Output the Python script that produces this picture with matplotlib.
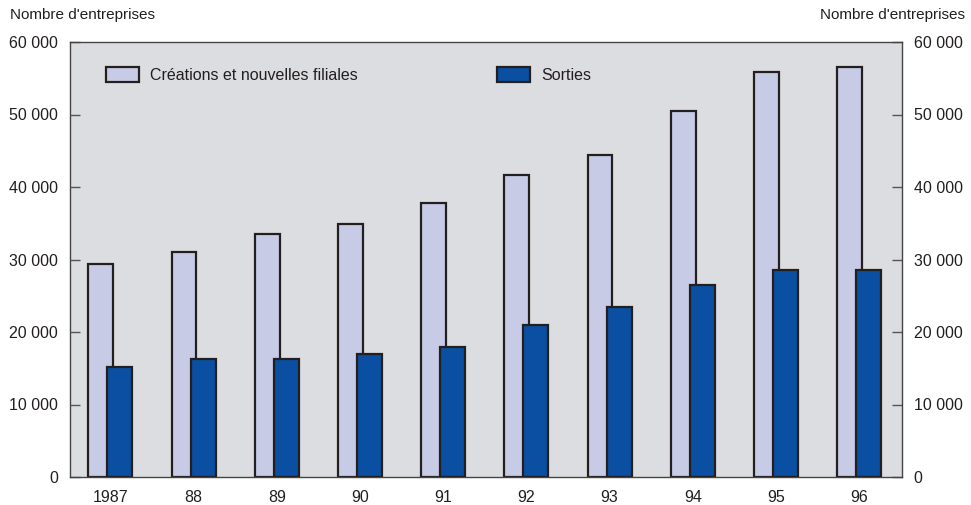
import matplotlib
matplotlib.use("Agg")
import matplotlib.pyplot as plt
import numpy as np

plt.rcParams['font.family'] = ['Liberation Sans', 'DejaVu Sans']

years = ["1987", "88", "89", "90", "91", "92", "93", "94", "95", "96"]
creations = [29400, 31000, 33500, 34900, 37800, 41700, 44400, 50500, 55800, 56500]
sorties = [15200, 16300, 16300, 16900, 18000, 21000, 23500, 26500, 28600, 28600]
yticks = [0, 10000, 20000, 30000, 40000, 50000, 60000]
ytick_labels = ["0", "10 000", "20 000", "30 000", "40 000", "50 000", "60 000"]

text_col = "#231f20"
edge_col = "#231f20"
bg_col = "#dcdde0"
light_col = "#c8cbe6"
dark_col = "#0a4fa2"

fig = plt.figure(figsize=(9.71, 5.05), dpi=100)
ax = fig.add_axes([70 / 971, 1 - 477 / 505, 832 / 971, 435 / 505])
ax.set_facecolor(bg_col)

x = np.arange(len(years))
w = 0.30
ax.bar(x - 0.13, creations, width=w, color=light_col, edgecolor=edge_col,
       linewidth=1.6, label="Créations et nouvelles filiales", zorder=2)
ax.bar(x + 0.10, sorties, width=w, color=dark_col, edgecolor=edge_col,
       linewidth=1.6, label="Sorties", zorder=3)

ax.set_xlim(-0.5, len(years) - 0.5)
ax.set_ylim(0, 60000)
ax.set_xticks(x - 0.015)
ax.set_xticklabels(years)
ax.set_yticks(yticks)
ax.set_yticklabels(ytick_labels)

ax.tick_params(axis='x', length=0, pad=9, labelsize=11.5, colors=text_col)
ax.tick_params(axis='y', direction='in', length=7, width=1, color="#555555",
               left=True, right=True, labelleft=True, labelright=True,
               pad=8.5, labelsize=11.5, labelcolor=text_col)

for s in ax.spines.values():
    s.set_color("#444444")
    s.set_linewidth(1.0)

ax.legend(loc='center left', bbox_to_anchor=(0.043, 0.925), ncol=2,
          frameon=False, fontsize=11.5, handlelength=2.05, handleheight=1.05,
          handletextpad=0.7, columnspacing=8.75, borderpad=0, borderaxespad=0,
          labelcolor=text_col)

fig.text(10 / 971, 1 - 15 / 505, "Nombre d'entreprises", ha='left', va='center',
         fontsize=11, color=text_col)
fig.text(965 / 971, 1 - 15 / 505, "Nombre d'entreprises", ha='right', va='center',
         fontsize=11, color=text_col)

fig.savefig("out.png", dpi=100, facecolor="white")
